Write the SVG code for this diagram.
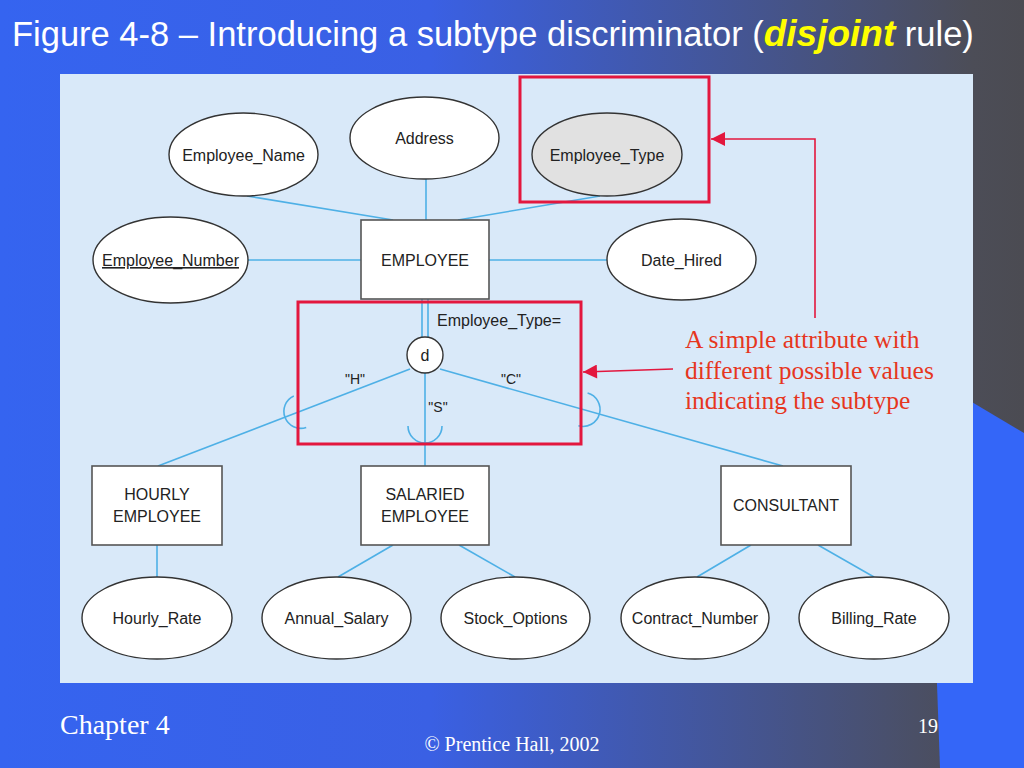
<svg xmlns="http://www.w3.org/2000/svg" width="1024" height="768" viewBox="0 0 1024 768">
<defs>
<linearGradient id="bg" x1="0" y1="0" x2="1" y2="0">
<stop offset="0" stop-color="#3564f0"/>
<stop offset="0.42" stop-color="#3a60e4"/>
<stop offset="0.95" stop-color="#4c4d57"/>
<stop offset="1" stop-color="#4b4b52"/>
</linearGradient>
<marker id="ah" viewBox="0 0 10 10" refX="10" refY="5" markerUnits="userSpaceOnUse" markerWidth="15" markerHeight="14" orient="auto">
<path d="M0 0 L10 5 L0 10 z" fill="#e3173e"/>
</marker>
<style>
.ent{fill:#ffffff;stroke:#555555;stroke-width:1.6}
.att{fill:#ffffff;stroke:#333333;stroke-width:1.4}
.lbl{font-family:"Liberation Sans",Arial,sans-serif;font-size:16px;fill:#222222;text-anchor:middle}
.lbs{font-family:"Liberation Sans",Arial,sans-serif;font-size:16px;fill:#222222;text-anchor:start}
.sm{font-family:"Liberation Sans",Arial,sans-serif;font-size:14px;fill:#222222;text-anchor:middle}
.con{stroke:#4eb0e6;stroke-width:1.6;fill:none}
.hl{fill:none;stroke:#e3173e;stroke-width:3}
.note{font-family:"Liberation Serif","Times New Roman",serif;font-size:25.5px;fill:#e6361e}
.foot{font-family:"Liberation Serif","Times New Roman",serif;fill:#ffffff}
</style>
</defs>
<rect x="0" y="0" width="1024" height="768" fill="url(#bg)"/>
<polygon points="950,389 1024,433 1024,768 940,768 934,600" fill="#3466f8"/>
<rect x="60" y="74" width="913" height="609" fill="#d9e9f9"/>
<text x="12" y="46" font-family="'Liberation Sans',Arial,sans-serif" font-size="34.5" fill="#ffffff">Figure 4-8 – Introducing a subtype discriminator (<tspan font-weight="bold" font-style="italic" fill="#ffff00" font-size="37">disjoint</tspan> rule)</text>
<g id="connectors">
<line class="con" x1="247" y1="196" x2="393" y2="220"/>
<line class="con" x1="426" y1="179" x2="426" y2="220"/>
<line class="con" x1="600" y1="196" x2="458" y2="220"/>
<line class="con" x1="248" y1="260" x2="361" y2="260"/>
<line class="con" x1="489" y1="260" x2="607" y2="260"/>
<line class="con" x1="422" y1="299" x2="422" y2="338"/>
<line class="con" x1="428" y1="299" x2="428" y2="338"/>
<line class="con" x1="410" y1="369" x2="158" y2="466"/>
<line class="con" x1="425" y1="373" x2="425" y2="466"/>
<line class="con" x1="440" y1="369" x2="783" y2="466"/>
<path class="con" d="M293.8 395.9 A17 17 0 0 0 306.2 427.5"/>
<path class="con" d="M408 426 A17 17 0 0 0 442 426"/>
<path class="con" d="M587.6 393 A17 17 0 0 1 578.4 425.8"/>
<line class="con" x1="157" y1="545" x2="157" y2="577"/>
<line class="con" x1="393" y1="545" x2="338" y2="577"/>
<line class="con" x1="459" y1="545" x2="515" y2="577"/>
<line class="con" x1="751" y1="545" x2="697" y2="577"/>
<line class="con" x1="818" y1="545" x2="874" y2="577"/>
</g>
<g id="employee_name"><ellipse class="att" cx="243.5" cy="154.5" rx="74.5" ry="41.5"/><text class="lbl" x="243.5" y="160.5">Employee_Name</text></g>
<g id="address"><ellipse class="att" cx="424.5" cy="138" rx="74.5" ry="41"/><text class="lbl" x="424.5" y="144">Address</text></g>
<g id="employee_type"><ellipse cx="607" cy="154.5" rx="75" ry="41.5" fill="#e1e1e1" stroke="#333333" stroke-width="1.4"/><text class="lbl" x="607" y="160.5">Employee_Type</text></g>
<g id="employee_number"><ellipse class="att" cx="170.5" cy="260" rx="77.5" ry="43"/><text class="lbl" x="170.5" y="266" text-decoration="underline">Employee_Number</text></g>
<g id="employee"><rect class="ent" x="361" y="220" width="128" height="79"/><text class="lbl" x="425" y="265.5">EMPLOYEE</text></g>
<g id="date_hired"><ellipse class="att" cx="681.5" cy="259.5" rx="74.5" ry="40.5"/><text class="lbl" x="681.5" y="265.5">Date_Hired</text></g>
<g id="discriminator">
<text class="lbs" x="437" y="326">Employee_Type=</text>
<circle cx="425" cy="355" r="18" fill="#ffffff" stroke="#333333" stroke-width="1.4"/>
<text class="lbl" x="425" y="361">d</text>
<text class="sm" x="355" y="384">"H"</text>
<text class="sm" x="438" y="412">"S"</text>
<text class="sm" x="511" y="384">"C"</text>
</g>
<g id="hourly"><rect class="ent" x="92" y="466" width="130" height="79"/><text class="lbl" x="157" y="500">HOURLY</text><text class="lbl" x="157" y="522">EMPLOYEE</text></g>
<g id="salaried"><rect class="ent" x="361" y="466" width="128" height="79"/><text class="lbl" x="425" y="500">SALARIED</text><text class="lbl" x="425" y="522">EMPLOYEE</text></g>
<g id="consultant"><rect class="ent" x="721" y="466" width="130" height="79"/><text class="lbl" x="786" y="511">CONSULTANT</text></g>
<g id="hourly_rate"><ellipse class="att" cx="157" cy="618" rx="75" ry="41"/><text class="lbl" x="157" y="624">Hourly_Rate</text></g>
<g id="annual_salary"><ellipse class="att" cx="336.5" cy="618" rx="74.5" ry="41"/><text class="lbl" x="336.5" y="624">Annual_Salary</text></g>
<g id="stock_options"><ellipse class="att" cx="515.5" cy="618" rx="74.5" ry="41"/><text class="lbl" x="515.5" y="624">Stock_Options</text></g>
<g id="contract_number"><ellipse class="att" cx="695" cy="618" rx="74" ry="41"/><text class="lbl" x="695" y="624">Contract_Number</text></g>
<g id="billing_rate"><ellipse class="att" cx="874" cy="618" rx="75" ry="41"/><text class="lbl" x="874" y="624">Billing_Rate</text></g>
<g id="highlights">
<rect class="hl" x="520" y="77" width="189" height="125"/>
<rect class="hl" x="298" y="302" width="283" height="142"/>
<path d="M815 318 V139 H711" fill="none" stroke="#e3173e" stroke-width="1.6" marker-end="url(#ah)"/>
<line x1="673" y1="369" x2="583" y2="372" stroke="#e3173e" stroke-width="1.6" marker-end="url(#ah)"/>
</g>
<g id="note">
<text class="note" x="685" y="348">A simple attribute with</text>
<text class="note" x="685" y="379">different possible values</text>
<text class="note" x="685" y="409">indicating the subtype</text>
</g>
<text class="foot" x="60" y="734" font-size="28">Chapter 4</text>
<text class="foot" x="512" y="751" font-size="20" text-anchor="middle">© Prentice Hall, 2002</text>
<text class="foot" x="918" y="733" font-size="20">19</text>
</svg>
